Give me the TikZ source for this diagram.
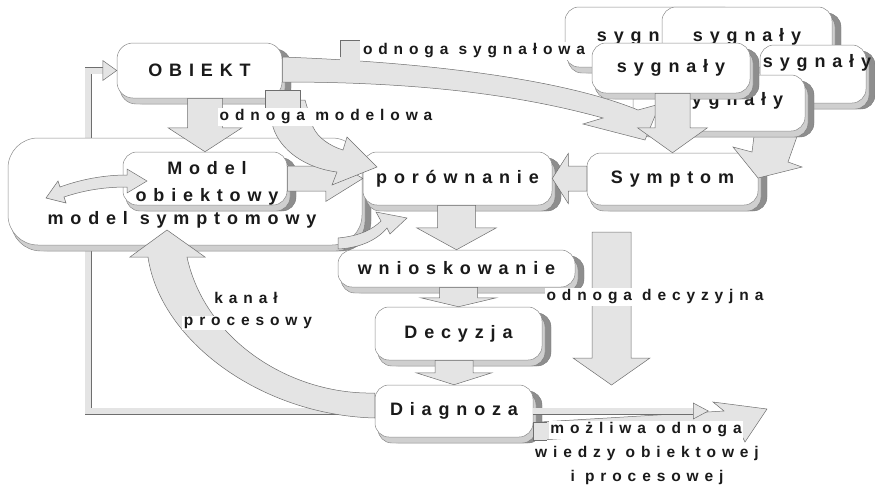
\documentclass[tikz,border=0pt]{standalone}
\usepackage{fontspec}
\setmainfont{Liberation Sans}
\newfontfamily\trackedbox[LetterSpace=38]{Liberation Sans Bold}
\newfontfamily\trackedlbl[LetterSpace=38]{Liberation Sans Bold}
\usetikzlibrary{calc,shadows}
\pgfdeclarelayer{bg}
\pgfsetlayers{bg,main}

\definecolor{arrfill}{HTML}{E4E4E4}
\definecolor{arredge}{HTML}{6E6E6E}
\definecolor{boxedge}{HTML}{8A8A8A}
\definecolor{shdark}{HTML}{8E8E8E}
\definecolor{shlight}{HTML}{CFCFCF}
\definecolor{shedge}{HTML}{7A7A7A}
\definecolor{ink}{HTML}{1A1A1A}

\newcommand\boxfont{\trackedbox\fontsize{18}{21}\selectfont}
\newcommand\lblfont{\trackedlbl\fontsize{15.5}{18}\selectfont}

\tikzset{
  rbox/.style={draw=boxedge, line width=0.5pt, fill=white, rounded corners=14pt,
    inner sep=0pt, align=center, font=\boxfont, text=ink,
    general shadow={fill=shdark, draw=shedge, line width=0.4pt, shadow xshift=9pt, shadow yshift=-6pt},
    general shadow={fill=shlight, draw=shedge, line width=0.4pt, shadow xshift=3pt, shadow yshift=-6pt}},
  boxtext/.style={font=\boxfont, text=ink, align=center, inner sep=0pt},
  blockarrow/.style={fill=arrfill, draw=arredge, line width=0.5pt, line join=miter},
  pipe/.style={draw=arredge, line width=0.5pt, double=arrfill, double distance=6pt},
  lbl/.style={font=\lblfont, text=ink, fill=white, inner sep=1.5pt},
  plain/.style={font=\lblfont, text=ink, inner sep=1pt},
  tabline/.style={draw=arredge, line width=0.4pt},
}

% rounded shadowed box: [style]{name}{x1}{y1}{x2}{y2}{text}
\newcommand\rbx[7][]{\node[rbox, #1, minimum width={#5-#3}, minimum height={#6-#4}]
  (#2) at ({(#3+#5)/2},{(#4+#6)/2}) {#7};}

% downward block arrow: {from}{to}{shaft half}{head half}{head length}
\newcommand\vblock[5]{\draw[blockarrow] let \p1=(#1), \p2=(#2) in
  ({\x2-#3pt},\y1) -- ({\x2+#3pt},\y1) -- ({\x2+#3pt},{\y2+#5pt}) -- ({\x2+#4pt},{\y2+#5pt})
  -- (\x2,\y2) -- ({\x2-#4pt},{\y2+#5pt}) -- ({\x2-#3pt},{\y2+#5pt}) -- cycle;}

% horizontal block arrow: {from}{to}{shaft half}{head half}{signed head length}
\newcommand\hblock[5]{\draw[blockarrow] let \p1=(#1), \p2=(#2) in
  (\x1,{\y2+#3pt}) -- ({\x2-(#5pt)},{\y2+#3pt}) -- ({\x2-(#5pt)},{\y2+#4pt}) -- (\x2,\y2)
  -- ({\x2-(#5pt)},{\y2-#4pt}) -- ({\x2-(#5pt)},{\y2-#3pt}) -- (\x1,{\y2-#3pt}) -- cycle;}

\begin{document}
\begin{tikzpicture}[x=1pt,y=-1pt]
\useasboundingbox (0,0) rectangle (875,488);

% ---- main blocks ----
\rbx[rounded corners=30pt]{msym}{8}{138}{362}{245}{}
\node[boxtext] (msymt) at (182,220) {model symptomowy};
\rbx{mobj}{123}{152}{287}{205}{}
\node[boxtext, font=\boxfont\fontsize{18}{27}\selectfont] (mobjt) at (207,183) {Model\\obiektowy};
\rbx[rounded corners=16pt]{obiekt}{117}{43}{282}{98}{OBIEKT}
\rbx{por}{363}{152}{552}{205}{porównanie}
\rbx{symp}{587}{153}{758}{205}{Symptom}
\rbx{wnio}{338}{250}{575}{287}{wnioskowanie}
\rbx{dec}{375}{307}{542}{360}{Decyzja}
\rbx{diag}{375}{385}{533}{437}{Diagnoza}

% ---- stack of signal boxes ----
\rbx{sa}{565}{7}{737}{67}{sygnały}
\rbx{sb}{662}{7}{832}{67}{sygnały}
\rbx{sc}{760}{45}{866}{103}{}
\node[boxtext] (sct) at (817,63) {sygnały};
\draw[blockarrow] (755,128) -- (800,128) -- (788,162) -- (802,167) -- (758,178)
  -- (733,147) -- (752,152) -- cycle;
\rbx{sd}{633}{75}{805}{131}{}
\node[boxtext] (sdt) at (729,101) {sygnały};

% signal branch from the object
\draw[blockarrow] ($(obiekt.east)+(0,-13.5)$) .. controls (420,62) and (560,78) .. (638,110)
  -- (660,104) -- (645,140) -- (583,124) -- (603,118)
  .. controls (520,95) and (420,82) .. ($(obiekt.east)+(0,11.5)$) -- cycle;
\rbx{se}{592}{43}{750}{93}{sygnały}
\vblock{se.south}{symp.north}{17.5}{35}{25}

% ---- model branch ----
\vblock{obiekt.south}{mobj.north}{17.5}{37}{24}
\draw[blockarrow] (60,187) .. controls (82,179) and (105,175) .. (127,175) -- (127,169)
  -- (147,181) -- (127,193) -- (127,187) .. controls (105,187) and (85,190) .. (64,197)
  -- (66,203) -- (46,198) -- (58,181) -- cycle;
\hblock{mobj.east}{por.west}{12.5}{23}{37}
\draw[blockarrow] (268,100) -- (305,100) -- (313,127) .. controls (318,138) and (330,146) .. (343,150)
  -- (347,137) -- (377,167) -- (332,185) -- (337,172)
  .. controls (305,168) and (280,150) .. (273,127) -- cycle;
\fill[arrfill] (265,90) rectangle (300,109);
\draw[tabline] (265,109) -- (265,90) -- (300,90) -- (300,109);
\node[lbl] (lmod) at (326,117) {odnoga modelowa};
\draw[blockarrow] (338,238) .. controls (360,236) and (373,229) .. (381,221) -- (376,212)
  -- (407,218) -- (390,234) -- (387,228) .. controls (377,240) and (360,248) .. (338,249) -- cycle;

% ---- comparison and decision chain ----
\hblock{symp.west}{por.east}{12.5}{25}{-16}
\vblock{por.south}{wnio.north}{19}{40}{22}
\vblock{wnio.south}{dec.north}{19}{38}{9}
\vblock{dec.south}{diag.north}{19}{38}{12}

% decision branch
\coordinate (decTop) at (611.5,232);
\coordinate (decTip) at (611.5,385);
\vblock{decTop}{decTip}{19.5}{38.5}{27}
\node[lbl] (ldec) at (655,297) {odnoga decyzyjna};

% process channel
\draw[blockarrow] ($(diag.west)+(0,7)$) .. controls (260,415) and (160,340) .. (148,257)
  -- (130,257) -- (167,230) -- (205,257) -- (187,257)
  .. controls (205,340) and (290,395) .. ($(diag.west)+(0,-18)$) -- cycle;
\node[lbl] (kanal) at (246,298) {kanał};
\node[lbl] (proc) at (248,323) {procesowy};

% possible knowledge branch
\draw[blockarrow] (540,422) -- (724,411) -- (713,402) -- (767,409) -- (745,442)
  -- (738,428) -- (540,440) -- cycle;
\fill[arrfill] (533,422) rectangle (547,440);
\draw[tabline] (547,422) -- (533,422) -- (533,440) -- (547,440);
\draw[pipe] (diag.east) -- ($(diag.east)+(160,0)$) coordinate (pEnd);
\draw[blockarrow] ($(pEnd)+(0,-8)$) -- ($(pEnd)+(15,0)$) -- ($(pEnd)+(0,8)$) -- cycle;
\node[lbl] (lmoz) at (646,430) {możliwa odnoga};
\node[plain] (lwie) at (647,453) {wiedzy obiektowej};
\node[plain] (lipr) at (647,477) {i procesowej};

% label of the signal branch
\fill[arrfill] (340,40) rectangle (360,62);
\draw[tabline] (340,57) -- (340,40) -- (360,40);
\node[lbl] (lsyg) at (474,51) {odnoga sygnałowa};

% feedback from the diagnosis to the object
\coordinate (fbx) at (88,0);
\begin{pgfonlayer}{bg}
  \draw[pipe] (diag.west) -| (fbx |- obiekt.west) -- ($(obiekt.west)+(-14,0)$);
\end{pgfonlayer}
\draw[blockarrow] ($(obiekt.west)+(-14,-10)$) -- (obiekt.west) -- ($(obiekt.west)+(-14,10)$) -- cycle;
\end{tikzpicture}
\end{document}
